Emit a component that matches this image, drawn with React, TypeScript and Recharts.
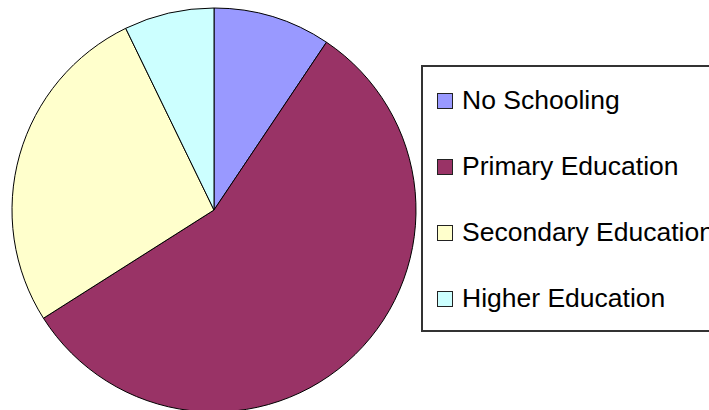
import React from 'react';
import { PieChart, Pie, Cell, Legend } from 'recharts';

const categories = ['No Schooling', 'Primary Education', 'Secondary Education', 'Higher Education'];
const values = [9.4, 56.6, 26.8, 7.2];
const colors = ['#9999FF', '#993366', '#FFFFCC', '#CCFFFF'];

const data = categories.map((name, i) => ({ name, value: values[i] }));

const LegendBox = () => (
  <div
    style={{
      position: 'relative',
      width: 300,
      height: 267,
      border: '2px solid #333',
      boxSizing: 'border-box',
      background: '#fff',
      fontFamily: '"Liberation Sans", Arial, sans-serif',
      fontSize: 26.5,
      lineHeight: '26px',
      color: '#000',
    }}
  >
    {categories.map((name, i) => (
      <React.Fragment key={name}>
        <div
          style={{
            position: 'absolute',
            left: 14,
            top: 26 + i * 66,
            width: 16,
            height: 16,
            boxSizing: 'border-box',
            border: '1px solid #222',
            background: colors[i],
          }}
        />
        <div
          style={{
            position: 'absolute',
            left: 39,
            top: 20 + i * 66,
            whiteSpace: 'nowrap',
          }}
        >
          {name}
        </div>
      </React.Fragment>
    ))}
  </div>
);

export default function App() {
  return (
    <div style={{ position: 'absolute', left: 0, top: 0, width: 709, height: 410, overflow: 'hidden', background: '#fff' }}>
      <PieChart width={709} height={410} margin={{ top: 0, right: 0, bottom: 0, left: 0 }}>
        <Pie
          data={data}
          dataKey="value"
          nameKey="name"
          cx={214}
          cy={210}
          outerRadius={202}
          startAngle={90}
          endAngle={-270}
          stroke="#000"
          strokeWidth={1}
          isAnimationActive={false}
        >
          {data.map((d, i) => (
            <Cell key={d.name} fill={colors[i]} />
          ))}
        </Pie>
        <Legend
          layout="vertical"
          align="right"
          verticalAlign="middle"
          content={() => <LegendBox />}
          wrapperStyle={{ position: 'absolute', left: 421, top: 65, width: 300, height: 267 }}
        />
      </PieChart>
    </div>
  );
}
